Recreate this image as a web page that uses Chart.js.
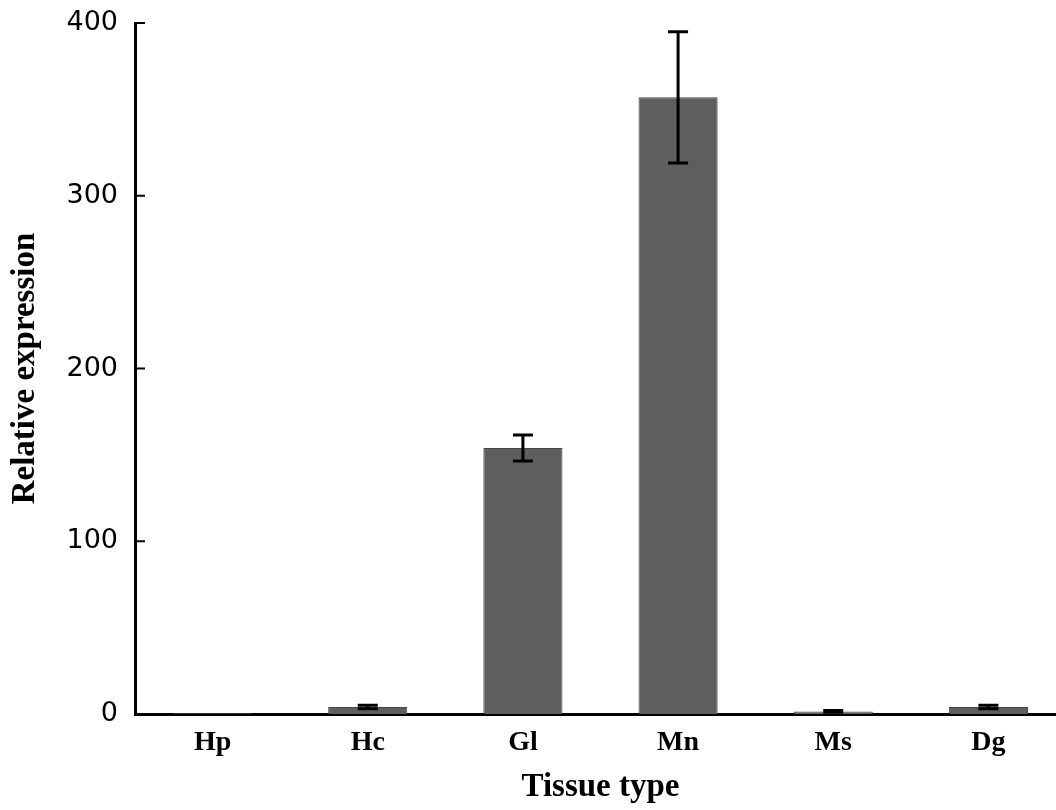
<!DOCTYPE html>
<html>
<head>
<meta charset="utf-8">
<script src="https://cdn.jsdelivr.net/npm/chart.js@4.4.0/dist/chart.umd.min.js"></script>
<style>
  html, body { margin: 0; padding: 0; background: #fff; overflow: hidden; }
  #wrap { width: 1056px; height: 810px; overflow: hidden; }
</style>
</head>
<body>
<div id="wrap"><canvas id="myChart" width="1066" height="810"></canvas></div>
<script>
const tissues = ['Hp', 'Hc', 'Gl', 'Mn', 'Ms', 'Dg'];
const expression = [0.5, 4, 154, 357, 1.5, 4];
const errors = [0, 1, 7.5, 38, 0.5, 1];
const yTicks = [0, 100, 200, 300, 400];

const barColor = '#5e5e5e';
const axisWidth = 3;

// error bars + inward tick marks on the y axis
const extras = {
    id: 'extras',
    afterDatasetsDraw(chart) {
        const ctx = chart.ctx;
        const x = chart.scales.x;
        const y = chart.scales.y;
        ctx.save();
        ctx.strokeStyle = '#000';
        ctx.lineWidth = 3;
        for (let i = 0; i < tissues.length; i++) {
            if (!errors[i]) continue;
            const cx = x.getPixelForValue(i);
            const top = y.getPixelForValue(expression[i] + errors[i]);
            const bot = y.getPixelForValue(expression[i] - errors[i]);
            ctx.beginPath();
            ctx.moveTo(cx, top);
            ctx.lineTo(cx, bot);
            ctx.moveTo(cx - 10, top);
            ctx.lineTo(cx + 10, top);
            ctx.moveTo(cx - 10, bot);
            ctx.lineTo(cx + 10, bot);
            ctx.stroke();
        }
        ctx.lineWidth = 2;
        yTicks.forEach(v => {
            const py = y.getPixelForValue(v);
            ctx.beginPath();
            ctx.moveTo(y.right, py);
            ctx.lineTo(y.right + 10, py);
            ctx.stroke();
        });
        ctx.restore();
    }
};

var ctx = document.getElementById('myChart').getContext('2d');

const data = {
    labels: tissues,
    datasets: [{
        label: 'Relative expression',
        data: expression,
        backgroundColor: barColor,
        borderColor: '#474747',
        borderWidth: 1,
        barPercentage: 0.51,
        categoryPercentage: 1
    }]
};

const options = {
    responsive: false,
    animation: false,
    layout: { padding: { top: 23, right: 0, left: 0, bottom: 0 } },
    plugins: {
        legend: { display: false },
        tooltip: { enabled: false }
    },
    scales: {
        x: {
            grid: { display: false, drawTicks: false },
            border: { display: true, color: '#000', width: axisWidth },
            ticks: {
                color: '#000',
                padding: 12,
                font: { family: 'Liberation Serif', size: 28, weight: 'bold' }
            },
            title: {
                display: true,
                text: 'Tissue type',
                color: '#000',
                padding: { top: 0, bottom: 3 },
                font: { family: 'Liberation Serif', size: 33, weight: 'bold', lineHeight: 1.2 }
            },
            afterFit(scale) {
                scale.height = 96;
                scale.paddingLeft = 0;
                scale.paddingRight = 0;
            }
        },
        y: {
            min: 0,
            max: 400,
            grid: { display: false, drawTicks: false },
            border: { display: true, color: '#000', width: axisWidth },
            afterBuildTicks(scale) { scale.ticks = yTicks.map(v => ({ value: v })); },
            ticks: {
                color: '#000',
                padding: 17,
                font: { family: 'DejaVu Sans', size: 27 }
            },
            title: {
                display: true,
                text: 'Relative expression',
                color: '#000',
                padding: { top: 6, bottom: 0 },
                font: { family: 'Liberation Serif', size: 33, weight: 'bold', lineHeight: 1.2 }
            },
            afterFit(scale) {
                scale.width = 135;
                scale.paddingTop = 0;
                scale.paddingBottom = 0;
            }
        }
    }
};

var myBarChart = new Chart(ctx, {
    type: 'bar',
    data: data,
    options: options,
    plugins: [extras]
});
</script>
</body>
</html>
